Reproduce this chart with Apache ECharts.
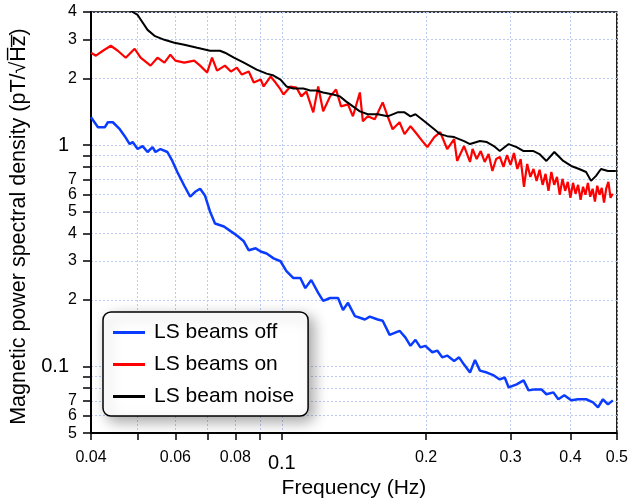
<!DOCTYPE html>
<html>
<head>
<meta charset="utf-8">
<script src="https://cdn.jsdelivr.net/npm/echarts@6/dist/echarts.min.js"></script>
<style>
  html, body { margin: 0; padding: 0; background: #fff; }
  #chart { width: 631px; height: 504px; }
</style>
</head>
<body>
<div id="chart"></div>
<script>
// LS beams off (blue)
const offFreq = [0.0400, 0.04136, 0.04276, 0.04338, 0.04442, 0.04593, 0.04704, 0.04817, 0.04886, 0.05004,
  0.05125, 0.05248, 0.05375, 0.05452, 0.05584, 0.05773, 0.05912, 0.06055, 0.06261, 0.06442,
  0.06597, 0.06756, 0.06919, 0.07086, 0.07257, 0.07575, 0.07832, 0.08059, 0.08333, 0.08534,
  0.08823, 0.09036, 0.09298, 0.09613, 0.09939, 0.10227, 0.10574, 0.10933, 0.11196, 0.11521,
  0.11912, 0.12199, 0.12613, 0.13103, 0.13419, 0.13743, 0.14209, 0.14551, 0.14902, 0.15261,
  0.15854, 0.16236, 0.16787, 0.17192, 0.17606, 0.18117, 0.18555, 0.19002, 0.19460, 0.19929,
  0.20605, 0.21102, 0.21611, 0.22132, 0.22883, 0.23435, 0.24000, 0.24696, 0.25292, 0.25902,
  0.26780, 0.27688, 0.28492, 0.29179, 0.29740, 0.30896, 0.31944, 0.32714, 0.33663, 0.34805,
  0.35644, 0.36853, 0.37742, 0.38837, 0.40152, 0.41516, 0.43128, 0.44592, 0.45668, 0.46768,
  0.47896, 0.49052]
const offPsd = [1.338, 1.206, 1.206, 1.270, 1.270, 1.181, 1.099, 1.012, 1.033, 0.961,
  0.991, 0.932, 0.981, 0.932, 0.961, 0.932, 0.849, 0.757, 0.656, 0.585,
  0.616, 0.636, 0.591, 0.501, 0.443, 0.429, 0.408, 0.391, 0.368, 0.335,
  0.342, 0.331, 0.324, 0.308, 0.299, 0.270, 0.251, 0.251, 0.226, 0.246,
  0.215, 0.198, 0.204, 0.204, 0.180, 0.194, 0.169, 0.166, 0.163, 0.168,
  0.163, 0.161, 0.139, 0.142, 0.145, 0.135, 0.124, 0.132, 0.122, 0.124,
  0.116, 0.118, 0.110, 0.112, 0.106, 0.110, 0.102, 0.0939, 0.107, 0.0958,
  0.0939, 0.0911, 0.0874, 0.0892, 0.0804, 0.0830, 0.0865, 0.0780, 0.0788, 0.0788,
  0.0749, 0.0764, 0.0711, 0.0741, 0.0703, 0.0711, 0.0711, 0.0689, 0.0654, 0.0711,
  0.0674, 0.0703]

// LS beams on (red)
const onFreq = [0.0400, 0.04096, 0.04236, 0.04400, 0.04549, 0.04726, 0.04933, 0.05076, 0.05324, 0.05505,
  0.05691, 0.05856, 0.05998, 0.06261, 0.06566, 0.06756, 0.06986, 0.07154, 0.07327, 0.07611,
  0.07832, 0.08059, 0.08254, 0.08534, 0.08739, 0.09036, 0.09166, 0.09476, 0.09705, 0.09939,
  0.10082, 0.10424, 0.10726, 0.10985, 0.11250, 0.11632, 0.11912, 0.12199, 0.12613, 0.12979,
  0.13292, 0.13743, 0.14074, 0.14551, 0.14761, 0.15116, 0.15629, 0.16236, 0.16628, 0.17029,
  0.17606, 0.18032, 0.18555, 0.19002, 0.19646, 0.20120, 0.20803, 0.21406, 0.22132, 0.22883,
  0.23213, 0.24000, 0.24696,
  0.250, 0.255, 0.260, 0.265, 0.270, 0.275, 0.280, 0.285, 0.290, 0.295,
  0.300, 0.305, 0.310, 0.315, 0.320, 0.325, 0.330, 0.335, 0.340, 0.345,
  0.350, 0.355, 0.360, 0.365, 0.370, 0.375, 0.380, 0.385, 0.390, 0.395,
  0.400, 0.405, 0.410, 0.415, 0.420, 0.425, 0.430, 0.435, 0.440, 0.445,
  0.450, 0.455, 0.460, 0.465, 0.470, 0.475, 0.480, 0.485, 0.490]
const onPsd = [2.618, 2.538, 2.673, 2.815, 2.673, 2.486, 2.729, 2.486, 2.289, 2.486,
  2.361, 2.565, 2.411, 2.361, 2.411, 2.289, 2.130, 2.486, 2.174, 2.289,
  2.152, 2.242, 2.086, 2.152, 1.920, 1.981, 1.843, 2.043, 1.920, 1.786,
  1.696, 1.843, 1.824, 1.662, 1.750, 1.408, 1.843, 1.423, 1.662, 1.786,
  1.498, 1.530, 1.351, 1.732, 1.283, 1.351, 1.310, 1.562, 1.351, 1.181,
  1.270, 1.122, 1.219, 1.145, 1.044, 0.981, 1.088, 1.145, 0.961, 1.066,
  0.849, 0.991, 0.840,
  0.961, 0.866, 0.941, 0.840, 0.912, 0.765, 0.866, 0.885, 0.798, 0.903,
  0.815, 0.922, 0.781, 0.866, 0.649, 0.823, 0.719, 0.781, 0.690, 0.774,
  0.662, 0.742, 0.622, 0.757, 0.662, 0.719, 0.597, 0.705, 0.622, 0.683,
  0.579, 0.676, 0.604, 0.662, 0.567, 0.649, 0.597, 0.676, 0.585, 0.636,
  0.556, 0.656, 0.597, 0.642, 0.550, 0.636, 0.683, 0.579, 0.604]

// LS beam noise (black)
const noiseFreq = [0.0400, 0.04421, 0.04886, 0.05004, 0.05248, 0.05426, 0.05691, 0.05969, 0.06261, 0.06660,
  0.07086, 0.07432, 0.07611, 0.07945, 0.08333, 0.08865, 0.09298, 0.09613, 0.09939, 0.10227,
  0.10574, 0.11090, 0.11466, 0.11799, 0.12199, 0.12794, 0.13228, 0.13612, 0.14074, 0.14551,
  0.15116, 0.15854, 0.16628, 0.17440, 0.18032, 0.18555, 0.19002, 0.19835, 0.20803, 0.21406,
  0.22132, 0.22883, 0.24000, 0.24696, 0.25902, 0.26780, 0.27688, 0.28492, 0.29740, 0.30896,
  0.31944, 0.33502, 0.34474, 0.35644, 0.37028, 0.38651, 0.40152, 0.41713, 0.43128, 0.44168,
  0.45233, 0.46323, 0.47896, 0.49759]
const noisePsd = [5.6, 4.7, 4.000, 3.878, 3.321, 3.121, 2.995, 2.903, 2.844, 2.757,
  2.673, 2.673, 2.618, 2.486, 2.361, 2.196, 2.107, 2.064, 1.981, 1.843,
  1.805, 1.805, 1.768, 1.768, 1.732, 1.696, 1.662, 1.578, 1.498, 1.423,
  1.380, 1.380, 1.351, 1.408, 1.408, 1.351, 1.380, 1.283, 1.181, 1.122,
  1.099, 1.088, 1.044, 1.012, 1.044, 1.033, 0.991, 0.941, 1.012, 0.981,
  0.941, 0.941, 0.912, 0.849, 0.932, 0.849, 0.806, 0.781, 0.757, 0.690,
  0.727, 0.781, 0.765, 0.765]

const seriesNames = ['LS beams off', 'LS beams on', 'LS beam noise']

// tick positions and labelled values
const xTicks = [0.04, 0.05, 0.06, 0.07, 0.08, 0.09, 0.1, 0.2, 0.3, 0.4, 0.5]
const xLabels = [0.04, 0.06, 0.08, 0.1, 0.2, 0.3, 0.4, 0.5]
const yTicks = [0.05, 0.06, 0.07, 0.08, 0.09, 0.1, 0.2, 0.3, 0.4, 0.5, 0.6, 0.7, 0.8, 0.9, 1, 2, 3, 4]
const yLabels = [0.05, 0.06, 0.07, 0.1, 0.2, 0.3, 0.4, 0.5, 0.6, 0.7, 1, 2, 3, 4]

const FONT = 'Liberation Sans'

function zip (xs, ys) {
  return xs.map((x, i) => [x, ys[i]])
}

function near (a, b) {
  return Math.abs(a - b) < 1e-6
}

const chart = echarts.init(document.getElementById('chart'), null, { renderer: 'canvas' })

const gridLine = {
  show: true,
  lineStyle: { color: '#bccbf3', width: 1, type: [2, 2] }
}

chart.setOption({
  animation: false,
  backgroundColor: '#fff',
  textStyle: { fontFamily: FONT },
  grid: {
    left: 91,
    right: 10,
    top: 12,
    bottom: 68,
    show: true,
    borderColor: '#000',
    borderWidth: 1.5
  },
  legend: {
    data: seriesNames,
    orient: 'vertical',
    left: 103,
    top: 312,
    backgroundColor: '#fff',
    borderColor: '#000',
    borderWidth: 1.5,
    borderRadius: 8,
    shadowBlur: 14,
    shadowColor: 'rgba(0,0,0,0.35)',
    shadowOffsetX: 5,
    shadowOffsetY: 5,
    padding: [10, 14, 9, 10],
    icon: 'rect',
    itemWidth: 32,
    itemHeight: 3,
    itemGap: 11,
    textStyle: { fontSize: 21, color: '#000', fontFamily: FONT, padding: [0, 0, 0, 4] }
  },
  xAxis: {
    type: 'log',
    logBase: 10,
    min: 0.04,
    max: 0.5,
    name: 'Frequency (Hz)',
    nameLocation: 'middle',
    nameGap: 44,
    nameTextStyle: { fontSize: 21, color: '#000', fontFamily: FONT },
    axisLine: { lineStyle: { color: '#000', width: 2 } },
    axisTick: { customValues: xTicks, length: 7, lineStyle: { color: '#000', width: 1.5 } },
    splitLine: gridLine,
    axisLabel: {
      customValues: xLabels,
      margin: 16,
      color: '#000',
      fontSize: 16,
      fontFamily: FONT,
      formatter: v => near(v, 0.1) ? '{big|0.1}' : String(+v.toFixed(2)),
      rich: { big: { fontSize: 20, fontFamily: FONT, color: '#000', padding: [4, 0, 0, 0] } }
    }
  },
  yAxis: {
    type: 'log',
    logBase: 10,
    min: 0.05,
    max: 4,
    name: 'Magnetic power spectral density (pT/\u221AH\u0305z\u0305)',
    nameLocation: 'middle',
    nameGap: 60,
    nameTextStyle: { fontSize: 21.5, color: '#000', fontFamily: FONT, padding: [0, 8, 0, 0] },
    axisLine: { lineStyle: { color: '#000', width: 2 } },
    axisTick: { customValues: yTicks, length: 8, lineStyle: { color: '#000', width: 1.5 } },
    splitLine: gridLine,
    axisLabel: {
      customValues: yLabels,
      margin: 14,
      color: '#000',
      fontSize: 16,
      fontFamily: FONT,
      formatter: v => {
        if (near(v, 1)) return '{big|1}'
        if (near(v, 0.1)) return '{big|0.1}'
        if (v >= 1) return String(Math.round(v))
        return String(v < 0.1 ? Math.round(v * 100) : Math.round(v * 10))
      },
      rich: { big: { fontSize: 20, fontFamily: FONT, color: '#000', padding: [0, 8, 0, 0] } }
    }
  },
  series: [
    {
      name: seriesNames[0],
      type: 'line',
      data: zip(offFreq, offPsd),
      showSymbol: false,
      symbol: 'none',
      color: '#0a3cff',
      lineStyle: { width: 2.5, color: '#0a3cff' }
    },
    {
      name: seriesNames[1],
      type: 'line',
      data: zip(onFreq, onPsd),
      showSymbol: false,
      symbol: 'none',
      color: '#ff0000',
      lineStyle: { width: 2.2, color: '#ff0000' }
    },
    {
      name: seriesNames[2],
      type: 'line',
      data: zip(noiseFreq, noisePsd),
      showSymbol: false,
      symbol: 'none',
      color: '#000',
      lineStyle: { width: 2, color: '#000' }
    }
  ]
})
</script>
</body>
</html>
